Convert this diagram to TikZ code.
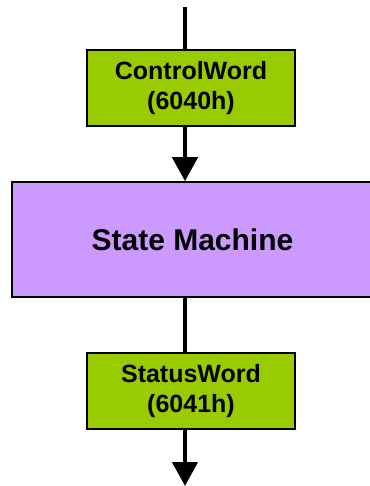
\documentclass[tikz,border=0pt]{standalone}
\usepackage{fontspec}
\setmainfont{Liberation Sans}
\usetikzlibrary{arrows.meta}
\definecolor{boxgreen}{HTML}{99CC00}
\definecolor{boxpurple}{HTML}{CC99FF}
\begin{document}
\begin{tikzpicture}[x=1pt,y=-1pt,
  greenbox/.style={draw=black, line width=1.5pt, fill=boxgreen, minimum width=208pt, minimum height=76pt, inner sep=0pt, align=center, font=\fontsize{25}{30}\selectfont\bfseries},
  purplebox/.style={draw=black, line width=1.5pt, fill=boxpurple, minimum width=370pt, minimum height=115pt, inner sep=0pt, align=center, font=\fontsize{30}{36}\selectfont\bfseries},
  flow/.style={line width=4.5pt},
  flowarrow/.style={line width=4.5pt, -{Triangle[width=25pt,length=24pt]}}]
\useasboundingbox (0,0) rectangle (369,486);
\node[greenbox] (ctrl) at (191,88) {ControlWord\\(6040h)};
\node[purplebox] (sm) at (197,239.5) {State Machine\hspace*{9pt}};
\node[greenbox] (stat) at (191,391) {StatusWord\\(6041h)};
\coordinate (top) at (185,7);
\coordinate (bot) at (185,486);
\draw[flow] (top) -- (top |- ctrl.north);
\draw[flowarrow] (top |- ctrl.south) -- (top |- sm.north);
\draw[flow] (top |- sm.south) -- (top |- stat.north);
\draw[flowarrow] (top |- stat.south) -- (bot);
\end{tikzpicture}
\end{document}
